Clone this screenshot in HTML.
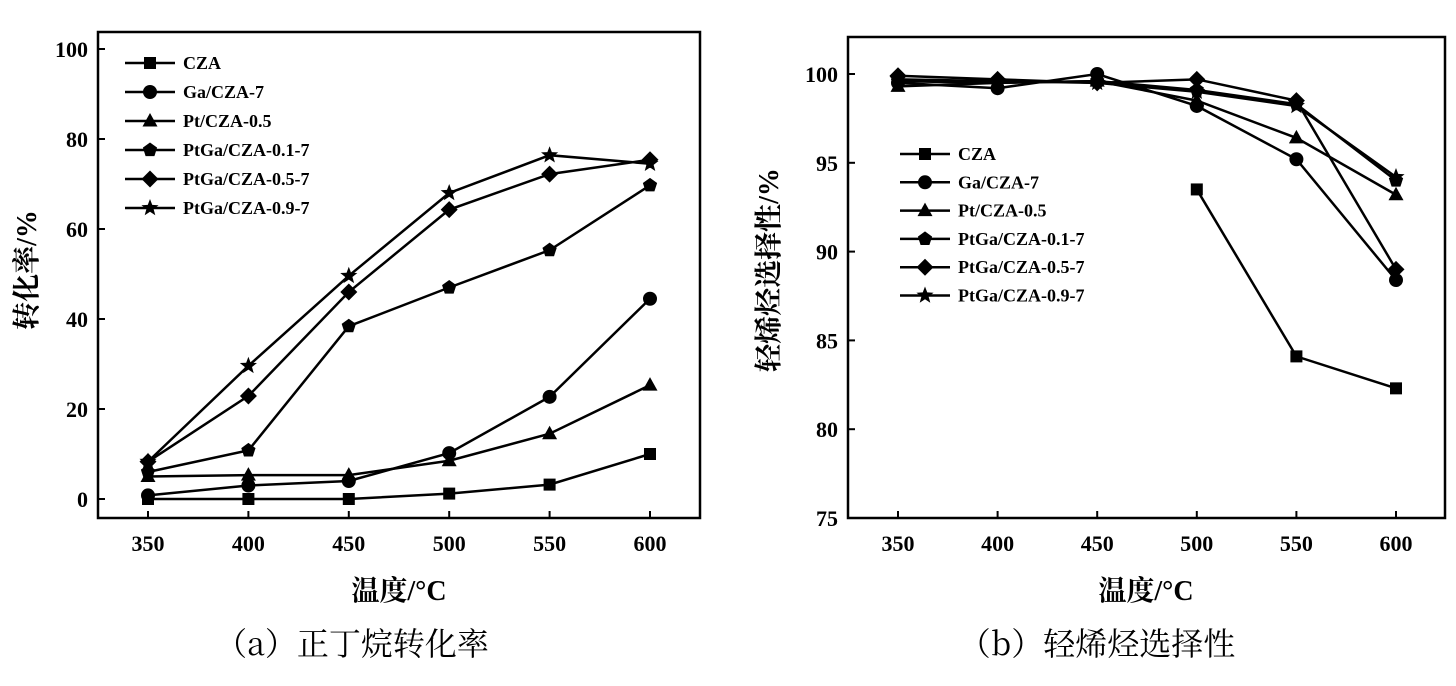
<!DOCTYPE html>
<html><head><meta charset="utf-8">
<style>
body{margin:0;background:#fff;width:1456px;height:686px;overflow:hidden}
svg{display:block}
text{font-family:"Liberation Serif","Noto Serif CJK SC",serif;fill:#000}
.tk{font-size:22px;font-weight:bold}
.lg{font-size:18px;font-weight:bold}
.ttl{font-size:28px;font-weight:bold}
.cap{font-size:32px;font-family:"Noto Serif CJK SC",serif}
</style></head>
<body>
<svg id="s" width="1456" height="686">
<text class="ttl" x="399" y="600" text-anchor="middle">温度/°C</text>
<text class="ttl" x="1146" y="600" text-anchor="middle">温度/°C</text>
<text class="ttl" transform="translate(36,270) rotate(-90)" text-anchor="middle">转化率/%</text>
<text class="ttl" transform="translate(778,270) rotate(-90)" text-anchor="middle">轻烯烃选择性/%</text>
<text class="cap" x="352" y="655" text-anchor="middle">（a）正丁烷转化率</text>
<text class="cap" x="1097" y="655" text-anchor="middle">（b）轻烯烃选择性</text>
</svg>
<script>
const temps=[350,400,450,500,550,600];
const names=["CZA","Ga/CZA-7","Pt/CZA-0.5","PtGa/CZA-0.1-7","PtGa/CZA-0.5-7","PtGa/CZA-0.9-7"];
const markers=["square","circle","triangle","pentagon","diamond","star"];
const convCZA=[0,0,0,1.2,3.2,10];
const convGa=[0.8,3,4,10.2,22.7,44.5];
const convPt=[5,5.3,5.3,8.5,14.5,25.3];
const convPtGa01=[6,10.8,38.4,47,55.3,69.7];
const convPtGa05=[8.3,22.9,46,64.3,72.2,75.4];
const convPtGa09=[8.3,29.6,49.6,68,76.4,74.5];
const selCZA=[null,null,null,93.5,84.1,82.3];
const selGa=[99.5,99.2,100,98.2,95.2,88.4];
const selPt=[99.3,99.5,99.6,98.5,96.4,93.2];
const selPtGa01=[99.6,99.5,99.6,99.1,98.3,94.0];
const selPtGa05=[99.9,99.7,99.5,99.7,98.5,89.0];
const selPtGa09=[99.7,99.6,99.5,99.0,98.2,94.2];
const leftTicks=[0,20,40,60,80,100];
const rightTicks=[75,80,85,90,95,100];
const NS="http://www.w3.org/2000/svg";
const svg=document.getElementById('s');
function el(t,a,p){const e=document.createElementNS(NS,t);for(const k in a)e.setAttribute(k,a[k]);(p||svg).appendChild(e);return e;}
function marker(g,type,x,y){
  let e;
  if(type==="square")e=el('rect',{x:x-6,y:y-6,width:12,height:12},g);
  else if(type==="circle")e=el('circle',{cx:x,cy:y,r:7},g);
  else{
    let pts=[];
    if(type==="triangle")pts=[[0,-8],[7.5,5.5],[-7.5,5.5]];
    else if(type==="diamond")pts=[[0,-8.5],[8.5,0],[0,8.5],[-8.5,0]];
    else if(type==="pentagon"){for(let i=0;i<5;i++){const a=-Math.PI/2+i*2*Math.PI/5;pts.push([7.5*Math.cos(a),7.5*Math.sin(a)]);}}
    else {for(let i=0;i<10;i++){const a=-Math.PI/2+i*Math.PI/5;const r=i%2?3.8:9;pts.push([r*Math.cos(a),r*Math.sin(a)]);}}
    e=el('polygon',{points:pts.map(p=>(x+p[0])+','+(y+p[1])).join(' ')},g);
  }
  e.setAttribute('fill','#000');
  return e;
}
function chart(id,box,xs,ys,ticks,series,leg){
  const g=el('g',{});
  
  
  const X=v=>xs[0]+(v-350)/250*(xs[1]-xs[0]);
  const Y=v=>ys[0]+(v-ticks[0])/(ticks[ticks.length-1]-ticks[0])*(ys[1]-ys[0]);
  const fr=el('rect',{x:box[0],y:box[1],width:box[2]-box[0],height:box[3]-box[1],fill:'none',stroke:'#000','stroke-width':2.5},g);
  
  
  temps.forEach(t=>{
    el('line',{x1:X(t),x2:X(t),y1:box[3],y2:box[3]-7,stroke:'#000','stroke-width':2},g);
    const tx=el('text',{x:X(t),y:box[3]+33,'text-anchor':'middle',class:'tk'},g);tx.textContent=t;
    
    
  });
  ticks.forEach(t=>{
    el('line',{x1:box[0],x2:box[0]+7,y1:Y(t),y2:Y(t),stroke:'#000','stroke-width':2},g);
    const tx=el('text',{x:box[0]-10,y:Y(t)+8,'text-anchor':'end',class:'tk'},g);tx.textContent=t;
    
    
  });
  series.forEach((d,i)=>{
    const sg=el('g',{},g);
    
    
    const pts=[];d.forEach((v,j)=>{if(v!==null)pts.push([X(temps[j]),Y(v)]);});
    el('polyline',{points:pts.map(p=>p.join(',')).join(' '),fill:'none',stroke:'#000','stroke-width':2.5},sg);
    pts.forEach(p=>marker(sg,markers[i],p[0],p[1]));
  });
  names.forEach((n,i)=>{
    const lg=el('g',{},g);
    
    
    const y=leg[1]+i*leg[2];
    el('line',{x1:leg[0],x2:leg[0]+50,y1:y,y2:y,stroke:'#000','stroke-width':2.5},lg);
    marker(lg,markers[i],leg[0]+25,y);
    const tx=el('text',{x:leg[0]+58,y:y+6,class:'lg'},lg);tx.textContent=n;
  });
}
chart('left',[98,32,700,518],[148,650],[499,49],leftTicks,[convCZA,convGa,convPt,convPtGa01,convPtGa05,convPtGa09],[125,63,29]);
chart('right',[848,37,1445,518],[898,1396],[518,74],rightTicks,[selCZA,selGa,selPt,selPtGa01,selPtGa05,selPtGa09],[900,154,28.3]);
</script>
</body></html>
